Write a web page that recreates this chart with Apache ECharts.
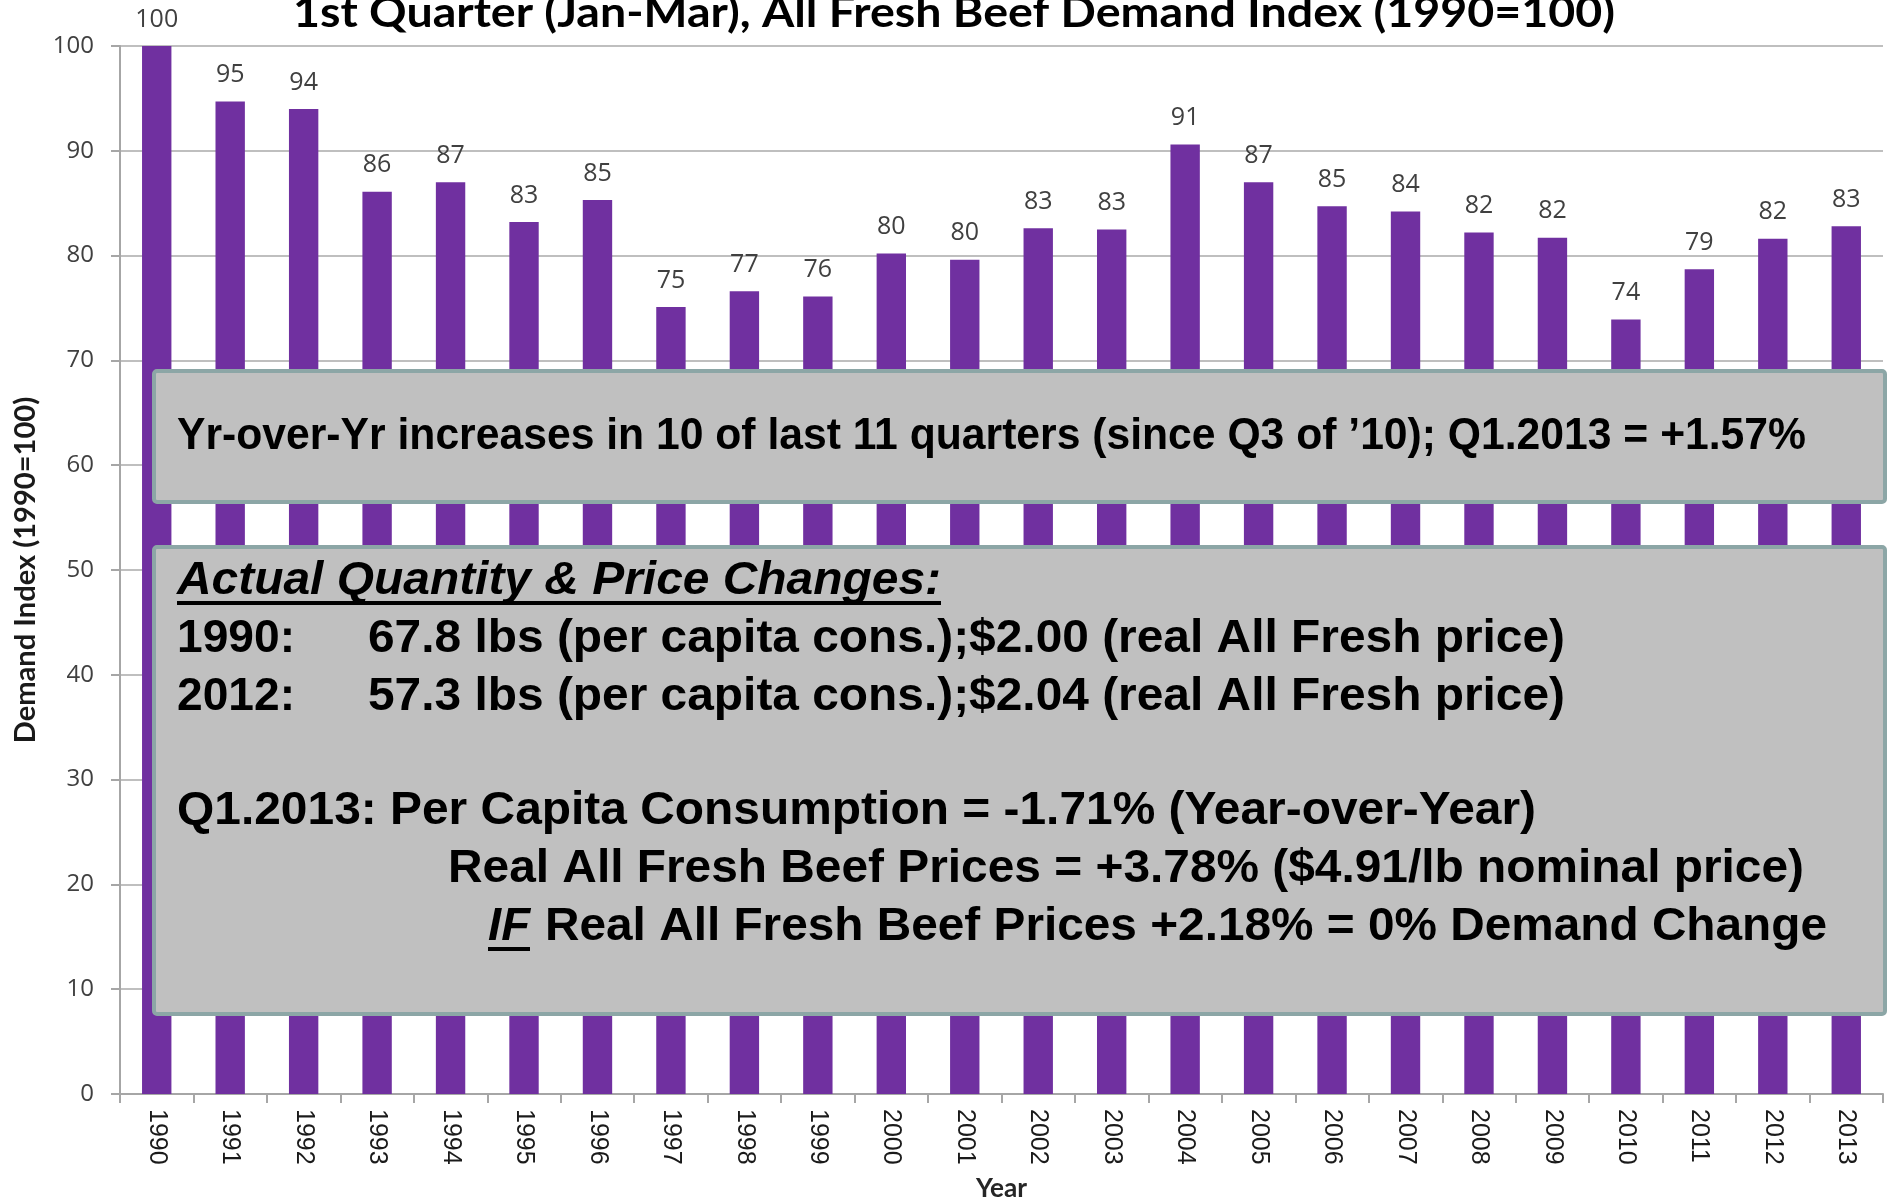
<!DOCTYPE html>
<html>
<head>
<meta charset="utf-8">
<title>All Fresh Beef Demand Index</title>
<script src="https://cdn.jsdelivr.net/npm/echarts@6/dist/echarts.min.js"></script>
<style>
  html, body { margin: 0; padding: 0; background: #fff; }
  #chart { width: 1890px; height: 1202px; }
</style>
</head>
<body>
<div id="chart"></div>
<script>
  // 1st quarter (Jan-Mar) all fresh beef demand index, 1990 = 100
  const years = ['1990', '1991', '1992', '1993', '1994', '1995', '1996', '1997', '1998', '1999', '2000', '2001',
                 '2002', '2003', '2004', '2005', '2006', '2007', '2008', '2009', '2010', '2011', '2012', '2013'];
  const demandIndex = [100, 94.7, 94.0, 86.1, 87.0, 83.2, 85.3, 75.1, 76.6, 76.1, 80.2, 79.6,
                       82.6, 82.5, 90.6, 87.0, 84.7, 84.2, 82.2, 81.7, 73.9, 78.7, 81.6, 82.8];
  const yMin = 0;
  const yMax = 100;
  const yStep = 10;

  const chartTitle = '1st Quarter (Jan-Mar), All Fresh Beef Demand Index (1990=100)';
  const noteTop = 'Yr-over-Yr increases in 10 of last 11 quarters (since Q3 of \u201910); Q1.2013 = +1.57%';
  const noteHeading = 'Actual Quantity & Price Changes:';
  const note1990 = ['1990:', '67.8 lbs (per capita cons.);$2.00 (real All Fresh price)'];
  const note2012 = ['2012:', '57.3 lbs (per capita cons.);$2.04 (real All Fresh price)'];
  const noteConsumption = 'Q1.2013: Per Capita Consumption = -1.71% (Year-over-Year)';
  const notePrices = 'Real All Fresh Beef Prices = +3.78% ($4.91/lb nominal price)';
  const noteIf = ['IF', 'Real All Fresh Beef Prices +2.18% = 0% Demand Change'];

  const measureCtx = document.createElement('canvas').getContext('2d');
  function textWidth(text, style, weight, size, family) {
      measureCtx.font = `${style} ${weight} ${size}px "${family}"`;
      return measureCtx.measureText(text).width;
  }
  // font size that makes the text about the given width
  function fitSize(text, weight, family, width) {
      return Math.round(40 * width / textWidth(text, 'normal', weight, 40, family) * 10) / 10;
  }
  // slide text was resized in the picture, so squeeze / stretch it to its width
  function fitText(text, x, y, width, size, opts) {
      opts = opts || {};
      const weight = opts.weight || 'bold';
      const fontStyle = opts.fontStyle || 'normal';
      const family = opts.family || 'Liberation Sans';
      const align = opts.align || 'left';
      return {
          type: 'text',
          x: x,
          y: y,
          z: 100,
          scaleX: width / textWidth(text, fontStyle, weight, size, family),
          style: {
              text: text,
              fontSize: size,
              fontWeight: weight,
              fontStyle: fontStyle,
              fontFamily: family,
              fill: opts.color || '#000',
              align: align,
              verticalAlign: 'middle'
          }
      };
  }
  function noteBox(y, height) {
      return {
          type: 'rect',
          z: 90,
          shape: { x: 154, y: y, width: 1731, height: height, r: 3 },
          style: { fill: '#c0c0c0', stroke: '#8ca6a6', lineWidth: 4 }
      };
  }
  function underline(x, y, width) {
      return { type: 'rect', z: 100, shape: { x: x, y: y, width: width, height: 4 }, style: { fill: '#000' } };
  }

  const chart = echarts.init(document.getElementById('chart'));
  const option = {
      backgroundColor: '#fff',
      animation: false,
      grid: {
          left: 120,
          right: 7,
          top: 46,
          bottom: 108,
          containLabel: false,
          outerBoundsMode: 'none'
      },
      xAxis: {
          type: 'category',
          data: years,
          name: 'Year',
          nameLocation: 'middle',
          nameGap: 82,
          nameTextStyle: {
              fontFamily: 'Lato',
              fontWeight: 'bold',
              fontSize: fitSize('Year', 'bold', 'Lato', 51),
              color: '#262626'
          },
          axisLine: { lineStyle: { color: '#a6a6a6', width: 2 } },
          axisTick: { show: true, length: 9, lineStyle: { color: '#a6a6a6', width: 2 } },
          axisLabel: {
              rotate: -90,
              margin: 15,
              fontFamily: 'Liberation Sans',
              fontSize: 25,
              color: '#1a1a1a'
          }
      },
      yAxis: {
          type: 'value',
          min: yMin,
          max: yMax,
          interval: yStep,
          name: 'Demand Index (1990=100)',
          nameLocation: 'middle',
          nameGap: 80,
          nameTextStyle: {
              fontFamily: 'Lato',
              fontWeight: 'bold',
              fontSize: fitSize('Demand Index (1990=100)', 'bold', 'Lato', 347),
              color: '#1a1a1a'
          },
          axisLine: { show: true, lineStyle: { color: '#a6a6a6', width: 2 } },
          axisTick: { show: true, length: 9, lineStyle: { color: '#a6a6a6', width: 2 } },
          axisLabel: {
              margin: 26,
              fontFamily: 'Open Sans',
              fontSize: 24,
              color: '#404040'
          },
          splitLine: { show: true, lineStyle: { color: '#bfbfbf', width: 2 } }
      },
      series: [{
          type: 'bar',
          data: demandIndex,
          barCategoryGap: '60%',
          itemStyle: { color: '#7030a0' },
          label: {
              show: true,
              position: 'top',
              distance: 14,
              fontFamily: 'Open Sans',
              fontSize: 25,
              color: '#404040',
              formatter: p => Math.round(p.value)
          }
      }],
      graphic: [
          fitText(chartTitle, 954, 13, 1322, 42, { family: 'Lato', align: 'center' }),
          noteBox(371, 131),
          noteBox(547, 467),
          fitText(noteTop, 177, 437, 1629, 44),
          fitText(noteHeading, 177, 581, 764, 46, { fontStyle: 'italic' }),
          underline(177, 601, 764),
          fitText(note1990[0], 177, 639, 118, 46),
          fitText(note1990[1], 368, 639, 1197, 46),
          fitText(note2012[0], 177, 697, 118, 46),
          fitText(note2012[1], 368, 697, 1197, 46),
          fitText(noteConsumption, 177, 811, 1359, 46),
          fitText(notePrices, 448, 869, 1356, 46),
          fitText(noteIf[0], 488, 927, 42, 46, { fontStyle: 'italic' }),
          underline(488, 947, 42),
          fitText(noteIf[1], 545, 927, 1282, 46)
      ]
  };
  chart.setOption(option);
</script>
</body>
</html>
